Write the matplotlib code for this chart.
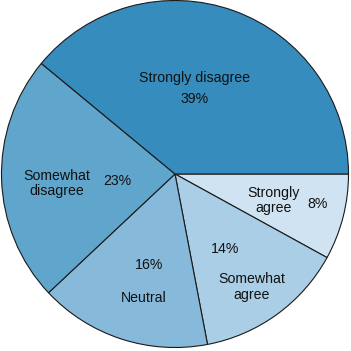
import matplotlib
matplotlib.use("Agg")
from matplotlib import pyplot as plt

# data
categories = ["Strongly agree", "Somewhat agree", "Neutral", "Somewhat disagree", "Strongly disagree"]
shares = [8, 14, 16, 23, 39]
colors = ["#d0e3f2", "#aacee6", "#87b9da", "#60a5cc", "#358cbd"]

# label layout (axes coords, name then percent)
name_pos = [(0.78, 0.428), (0.718, 0.182), (0.41, 0.151), (0.163, 0.478), (0.553, 0.777)]
pct_pos = [(0.905, 0.418), (0.641, 0.292), (0.425, 0.245), (0.333, 0.484), (0.555, 0.718)]
names = ["Strongly\nagree", "Somewhat\nagree", "Neutral", "Somewhat\ndisagree", "Strongly disagree"]

plt.rcParams['font.family'] = ['Liberation Sans', 'DejaVu Sans']

fig = plt.figure(figsize=(3.51, 3.51), dpi=100)
ax = fig.add_axes([0, 0, 1, 1])
ax.pie(shares, colors=colors, startangle=0, counterclock=False, radius=1.0,
       wedgeprops=dict(edgecolor='#1a1a1a', linewidth=0.8))
r_px = 173.5
ax.set_xlim(-175 / r_px, 176 / r_px)
ax.set_ylim(-177 / r_px, 174 / r_px)
ax.axis('off')

for name, share, npos, ppos in zip(names, shares, name_pos, pct_pos):
    ax.text(npos[0], npos[1], name, transform=ax.transAxes, ha='center', va='center',
            fontsize=10.2, color='#111111', linespacing=1.12)
    ax.text(ppos[0], ppos[1], f'{share}%', transform=ax.transAxes, ha='center', va='center',
            fontsize=10.2, color='#111111')

fig.savefig('out.png', dpi=100)
